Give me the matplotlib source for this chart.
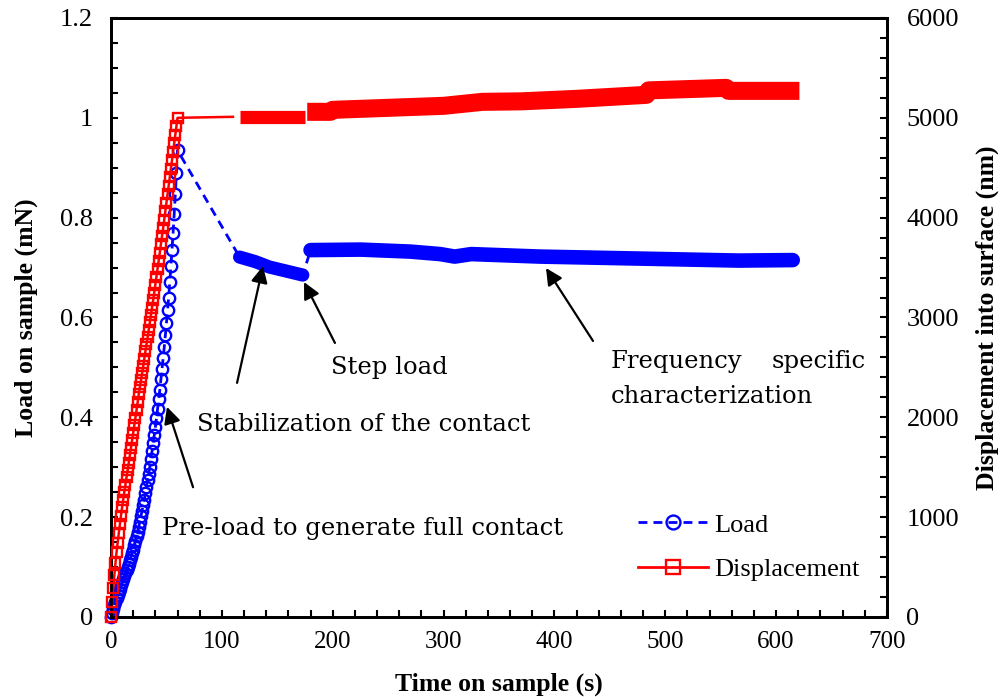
import matplotlib
matplotlib.use("Agg")
import matplotlib.pyplot as plt
from matplotlib.lines import Line2D
from matplotlib.ticker import MultipleLocator

plt.rcParams['font.family'] = ['Liberation Serif', 'DejaVu Serif']

# ---------------- data ----------------
# loading phase (markers), time in s
t_load = list(range(0, 61))
load_ramp = [0.000, 0.008, 0.016, 0.024, 0.031, 0.038, 0.045, 0.051, 0.057, 0.064,
             0.070, 0.076, 0.082, 0.088, 0.094, 0.100, 0.107, 0.114, 0.121, 0.128,
             0.135, 0.144, 0.153, 0.162, 0.171, 0.180, 0.191, 0.202, 0.213, 0.224,
             0.235, 0.248, 0.261, 0.274, 0.287, 0.300, 0.316, 0.332, 0.348, 0.364,
             0.380, 0.398, 0.417, 0.436, 0.455, 0.476, 0.497, 0.518, 0.540, 0.564,
             0.589, 0.614, 0.640, 0.671, 0.703, 0.736, 0.770, 0.808, 0.847, 0.889,
             0.935]
disp_ramp = [0, 150, 290, 420, 540, 650, 745, 840, 930, 1015,
             1100, 1175, 1250, 1325, 1400, 1470, 1545, 1620, 1695, 1770,
             1845, 1920, 1995, 2070, 2150, 2230, 2300, 2370, 2440, 2510,
             2585, 2660, 2730, 2800, 2875, 2950, 3025, 3100, 3175, 3250,
             3330, 3410, 3490, 3570, 3650, 3735, 3815, 3895, 3980, 4065,
             4150, 4235, 4320, 4405, 4490, 4575, 4660, 4745, 4830, 4915,
             5000]

# stabilization hold (dense data, drawn as band)
t_hold = [116, 130, 143, 158, 173]
load_hold = [0.721, 0.712, 0.701, 0.693, 0.685]

# frequency specific segment (dense data, drawn as band)
t_freq = [180, 225, 270, 297, 310, 325, 387, 477, 566, 615]
load_freq = [0.735, 0.736, 0.732, 0.727, 0.722, 0.727, 0.722, 0.718, 0.714, 0.715]

# displacement after ramp
t_disp_hold = [116, 175]
disp_hold = [5010, 5010]
t_disp_freq = [177, 198, 200, 250, 300, 335, 370, 420, 483, 485, 555, 557, 621]
disp_freq = [5060, 5060, 5080, 5100, 5120, 5160, 5165, 5190, 5230, 5275, 5300, 5270, 5270]

# ---------------- figure ----------------
fig = plt.figure(figsize=(10.02, 6.97), dpi=100)
ax = fig.add_axes([0.1108, 0.1148, 0.7744, 0.8594])
ax2 = ax.twinx()

blue = '#0000FF'
red = '#FF0000'

# connecting dashed load line (gaps between segments)
ax.plot(t_load + t_hold + t_freq, load_ramp + load_hold + load_freq,
        color=blue, ls=(0, (3.2, 2.2)), lw=2.0, zorder=2)
ax.plot(t_load, load_ramp, ls='none', marker='o', ms=8.2, mfc='none',
        mec=blue, mew=1.7, zorder=3, clip_on=False)
ax.plot(t_hold, load_hold, color=blue, lw=9.5, solid_capstyle='round',
        solid_joinstyle='round', zorder=3)
ax.plot(t_freq, load_freq, color=blue, lw=10.5, solid_capstyle='round',
        solid_joinstyle='round', zorder=3)

# displacement
ax2.plot(t_load + [110], disp_ramp + [5010], color=red, lw=1.8, zorder=2)
ax2.plot(t_load, disp_ramp, ls='none', marker='s', ms=7.4, mfc='none',
         mec=red, mew=1.7, zorder=3, clip_on=False)
ax2.plot(t_disp_hold, disp_hold, color=red, lw=9.5, solid_capstyle='butt',
         solid_joinstyle='round', zorder=3)
ax2.plot(t_disp_freq, disp_freq, color=red, lw=13, solid_capstyle='butt',
         solid_joinstyle='round', zorder=3)

# axes limits / ticks
ax.set_xlim(0, 700)
ax.set_ylim(0, 1.2)
ax2.set_ylim(0, 6000)
ax.xaxis.set_major_locator(MultipleLocator(100))
ax.xaxis.set_minor_locator(MultipleLocator(20))
ax.yaxis.set_major_locator(MultipleLocator(0.2))
ax.yaxis.set_minor_locator(MultipleLocator(0.05))
ax2.yaxis.set_major_locator(MultipleLocator(1000))
ax2.yaxis.set_minor_locator(MultipleLocator(200))
ax.set_yticks([0, 0.2, 0.4, 0.6, 0.8, 1.0, 1.2])
ax.set_yticklabels(['0', '0.2', '0.4', '0.6', '0.8', '1', '1.2'])

for a in (ax, ax2):
    for s in a.spines.values():
        s.set_linewidth(2.0)

ax.tick_params(axis='x', which='both', direction='in', length=5, width=1.5,
               top=False, labelsize=18, pad=10)
ax.tick_params(axis='y', which='both', direction='in', length=5, width=1.5,
               right=False, labelsize=19, pad=13)
ax2.tick_params(axis='y', which='both', direction='in', length=5, width=1.5,
                labelsize=19, pad=14)

ax.set_xlabel('Time on sample (s)', fontsize=18.5, fontweight='bold', labelpad=14)
ax.set_ylabel('Load on sample (mN)', fontsize=18.5, fontweight='bold', labelpad=16)
ax2.set_ylabel('Displacement into surface (nm)', fontsize=18.5, fontweight='bold',
               labelpad=12)

# annotations
afont = dict(fontsize=17.5, family=['DejaVu Serif'])
arrow = dict(arrowstyle='-|>', color='black', lw=1.6, mutation_scale=25,
             shrinkA=0, shrinkB=0)
ax.annotate('', xy=(50.5, 0.421), xytext=(74, 0.260), arrowprops=arrow)
ax.annotate('', xy=(137.1, 0.703), xytext=(113.7, 0.469), arrowprops=arrow)
ax.annotate('', xy=(174.1, 0.671), xytext=(202, 0.549), arrowprops=arrow)
ax.annotate('', xy=(392.4, 0.699), xytext=(434.8, 0.553), arrowprops=arrow)

ax.text(46, 0.178, 'Pre-load to generate full contact', ha='left', va='center', **afont)
ax.text(77.6, 0.385, 'Stabilization of the contact', ha='left', va='center', **afont)
ax.text(198.5, 0.499, 'Step load', ha='left', va='center', **afont)
ax.text(451, 0.511, 'Frequency', ha='left', va='center', **afont)
ax.text(681, 0.511, 'specific', ha='right', va='center', **afont)
ax.text(451, 0.441, 'characterization', ha='left', va='center', **afont)

# legend
h1 = Line2D([], [], color=blue, ls=(0, (3.2, 2.2)), lw=2.0, marker='o', ms=10,
            mfc='none', mec=blue, mew=1.7)
h2 = Line2D([], [], color=red, lw=2.0, marker='s', ms=10, mfc='none', mec=red, mew=1.7)
ax2.legend([h1, h2], ['Load', 'Displacement'], loc='lower left',
           bbox_to_anchor=(0.648, 0.02), frameon=False, fontsize=19,
           handlelength=2.65, handletextpad=0.25, labelspacing=0.8)

fig.savefig('out.png', dpi=100)
